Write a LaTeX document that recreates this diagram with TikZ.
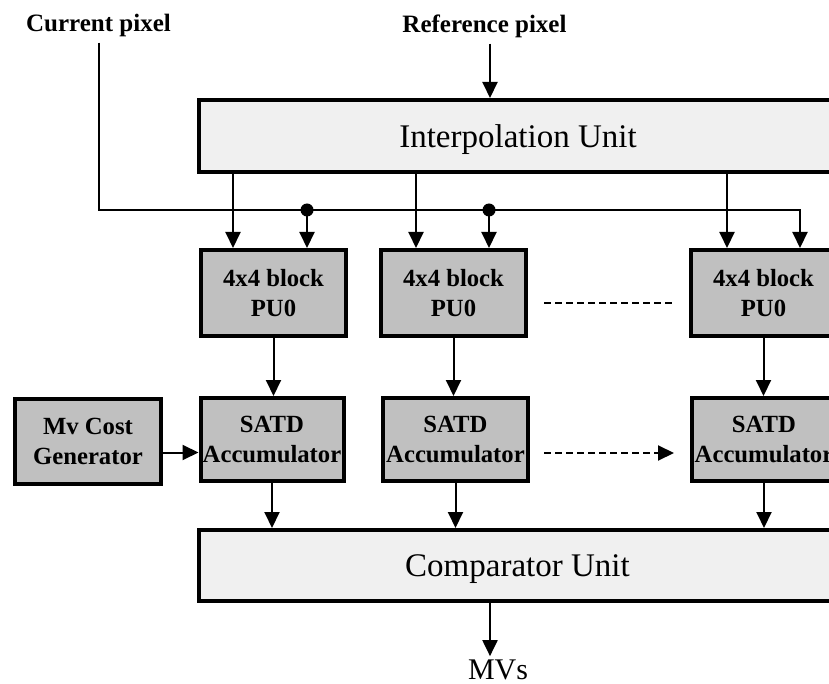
\documentclass[tikz,border=0pt]{standalone}
\usepackage{fontspec}
\setmainfont{Liberation Serif}
\usetikzlibrary{arrows.meta,calc}
\definecolor{boxgray}{RGB}{192,192,192}
\definecolor{unitgray}{RGB}{240,240,240}
\begin{document}
\begin{tikzpicture}[x=1pt,y=-1pt,
  blk/.style={draw, line width=4pt, fill=boxgray, font=\fontsize{24.7}{30}\selectfont\bfseries, align=center, inner sep=0pt},
  unit/.style={draw, line width=4pt, fill=unitgray, font=\fontsize{33}{38}\selectfont, text depth=0pt, inner sep=0pt},
  conn/.style={line width=2pt},
  arr/.style={conn, -{Triangle[length=16pt 0,width=15pt 0]}},
  dsh/.style={dash pattern=on 7pt off 4pt},
  lbl/.style={font=\fontsize{25}{30}\selectfont\bfseries, inner sep=5pt, anchor=base},
  jn/.style={circle, fill=black, inner sep=0pt, minimum size=13pt}]
\useasboundingbox (0,0) rectangle (829,684);
\clip (0,0) rectangle (829,684);

% labels
\node[lbl] (cur) at (98.5,32) {Current pixel};
\node[lbl] (ref) at (484.5,33) {Reference pixel};

% units
\node[unit, minimum width=638pt, minimum height=72pt] (interp) at (518,136) {Interpolation Unit};
\node[unit, minimum width=637pt, minimum height=71pt] (cmp) at (517.5,565.5) {Comparator Unit};

% PU blocks
\node[blk, minimum width=145pt, minimum height=86pt] (pu1) at (273.5,293) {4x4 block\\PU0};
\node[blk, minimum width=145pt, minimum height=86pt] (pu2) at (453.5,293) {4x4 block\\PU0};
\node[blk, minimum width=145pt, minimum height=86pt] (pu3) at (763.5,293) {4x4 block\\PU0};

% SATD accumulators
\node[blk, minimum width=143pt, minimum height=83pt] (satd1) at (272,439.5) {SATD\\Accumulator};
\node[blk, minimum width=145pt, minimum height=83pt] (satd2) at (455.5,439.5) {SATD\\Accumulator};
\node[blk, minimum width=144pt, minimum height=83pt] (satd3) at (764,439.5) {SATD\\Accumulator};

% Mv cost generator
\node[blk, minimum width=146pt, minimum height=85pt] (mv) at (88,441.5) {Mv Cost\\Generator};

% output
\node[font=\fontsize{30}{36}\selectfont, inner sep=0pt, anchor=base] (mvs) at (498,679) {MVs};

% reference pixel input
\draw[arr] ([xshift=5.5pt]ref.south) -- ([xshift=5.5pt]ref.south |- interp.north);

% current pixel bus
\coordinate (bus) at (800,210);
\draw[arr] (cur.south) |- (bus) -- (bus |- pu3.north);
\node[jn] (j1) at (307,210) {};
\node[jn] (j2) at (489,210) {};
\draw[arr] (j1.center) -- (j1 |- pu1.north);
\draw[arr] (j2.center) -- (j2 |- pu2.north);

% interpolation outputs
\coordinate (o1) at (233,0);
\coordinate (o2) at (416,0);
\coordinate (o3) at (727,0);
\draw[arr] (o1 |- interp.south) -- (o1 |- pu1.north);
\draw[arr] (o2 |- interp.south) -- (o2 |- pu2.north);
\draw[arr] (o3 |- interp.south) -- (o3 |- pu3.north);

% PU -> SATD
\draw[arr] (pu1.south) -- (pu1.south |- satd1.north);
\draw[arr] (pu2.south) -- (pu2.south |- satd2.north);
\draw[arr] (pu3.south) -- (pu3.south |- satd3.north);

% SATD -> comparator
\draw[arr] (satd1.south) -- (satd1.south |- cmp.north);
\draw[arr] (satd2.south) -- (satd2.south |- cmp.north);
\draw[arr] (satd3.south) -- (satd3.south |- cmp.north);

% Mv cost -> SATD1
\coordinate (mvo) at ([yshift=-11pt]mv.east);
\draw[arr] (mvo) -- (mvo -| satd1.west);

% dashed continuation
\coordinate (d1) at ([yshift=-10pt]pu2.east);
\draw[conn, dsh, shorten <=16pt, shorten >=17pt] (d1) -- (d1 -| pu3.west);
\coordinate (d2) at ([yshift=-13.5pt]satd2.east);
\draw[arr, dsh, shorten <=14pt, shorten >=16pt] (d2) -- (d2 -| satd3.west);

% comparator -> MVs
\coordinate (mo) at ([xshift=-8pt]mvs.north);
\draw[arr] (mo |- cmp.south) -- ([yshift=3pt]mo);
\end{tikzpicture}
\end{document}
